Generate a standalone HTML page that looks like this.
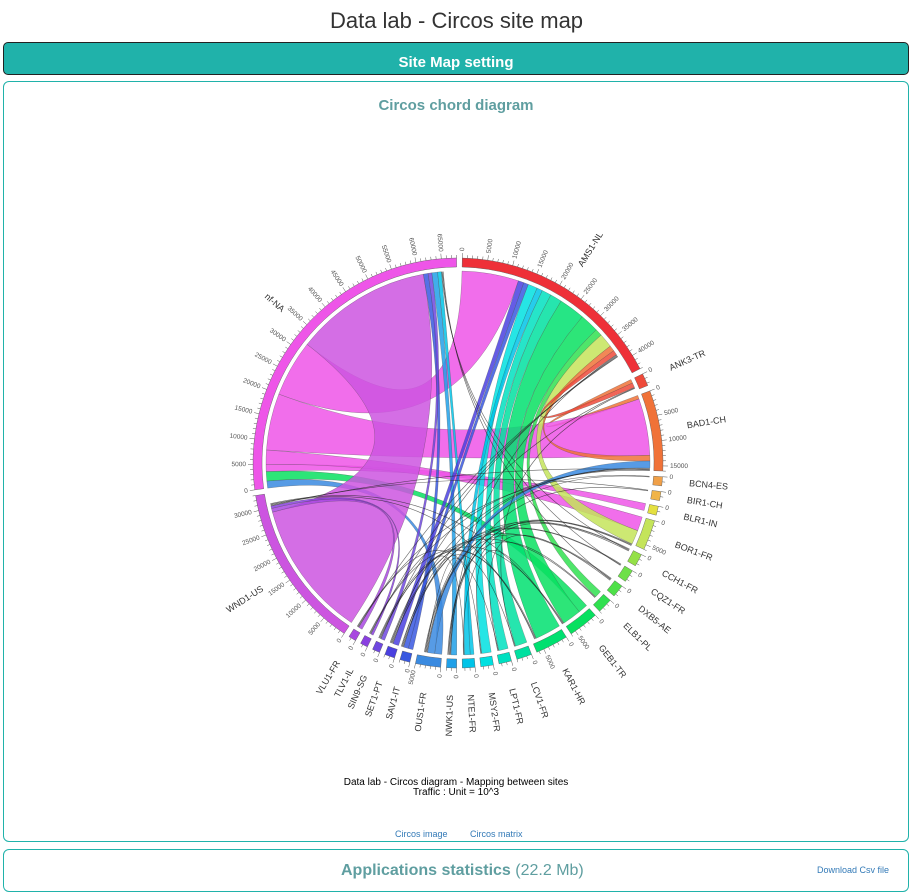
<!DOCTYPE html>
<html><head><meta charset="utf-8">
<style>
body{margin:0;width:913px;height:895px;background:#fff;font-family:"Liberation Sans",sans-serif;overflow:hidden;position:relative}
.title{position:absolute;left:0;width:913px;top:8px;text-align:center;font-size:22px;color:#333}
.bar{position:absolute;left:3px;top:42px;width:904px;height:31px;background:#20b2aa;border:1px solid #222;border-radius:5px;color:#fff;font-weight:bold;font-size:15px;text-align:center;line-height:40px}
.panel{position:absolute;left:3px;width:904px;border:1px solid #20b2aa;border-radius:6px}
.h{color:#5f9ea0;font-weight:bold}
a{color:#337ab7;text-decoration:none}
</style></head><body>
<div class="title">Data lab - Circos site map</div>
<div class="bar">Site Map setting</div>
<div class="panel" style="top:81px;height:759px">
<div class="h" style="position:absolute;top:15px;width:100%;text-align:center;font-size:15px">Circos chord diagram</div>
<div style="position:absolute;top:696px;width:100%;text-align:center;font-size:10px;line-height:10px;color:#000">Data lab - Circos diagram - Mapping between sites<br>Traffic : Unit = 10^3</div>
<a style="position:absolute;left:391px;top:747px;font-size:9px">Circos image</a>
<a style="position:absolute;left:466px;top:747px;font-size:9px">Circos matrix</a>
</div>
<div class="panel" style="top:849px;height:41px">
<div style="position:absolute;left:337px;top:12px;font-size:16px"><span class="h">Applications statistics</span> <span style="color:#5f9ea0">(22.2 Mb)</span></div>
<a style="position:absolute;left:813px;top:15px;font-size:9px">Download Csv file</a>
</div>
<svg id="chart" width="913" height="895" style="position:absolute;left:0;top:0"></svg>
<script>
const sites=["AMS1-NL","ANK3-TR","BAD1-CH","BCN4-ES","BIR1-CH","BLR1-IN","BOR1-FR","CCH1-FR","CQZ1-FR","DXB5-AE","ELB1-PL","GEB1-TR","KAR1-HR","LCV1-FR","LPT1-FR","MSY2-FR","NTE1-FR","NWK1-US","OUS1-FR","SAV1-IT","SET1-PT","SIN9-SG","TLV1-IL","VLU1-FR","WND1-US","nf-NA"];
const siteTotals=[43000,2500,16000,1800,1800,1800,6000,2500,2500,2500,3000,6000,6500,3000,2500,2500,2500,2000,5000,2000,2000,1500,1500,1500,33000,68000];
const siteColors=["#ee3038","#ee4a3a","#f07238","#f0a048","#f0b448","#e4e040","#c4e45a","#94e048","#6ee048","#4ee048","#30e050","#08e060","#00e070","#00e0a0","#00e0c0","#00e0e0","#00c4e8","#20a0e8","#3a8ae0","#3858e0","#4a40e0","#7048e0","#8a40e0","#a848e0","#cc55e0","#ee55e8"];
const flowFrom=["nf-NA","nf-NA","ANK3-TR","BLR1-IN","BOR1-FR","BAD1-CH","AMS1-NL","nf-NA","nf-NA","nf-NA","nf-NA","nf-NA","AMS1-NL","AMS1-NL","AMS1-NL","AMS1-NL","AMS1-NL","AMS1-NL","AMS1-NL","AMS1-NL","AMS1-NL","AMS1-NL","AMS1-NL","AMS1-NL","BAD1-CH","WND1-US","WND1-US"];
const flowTo=["OUS1-FR","GEB1-TR","BAD1-CH","nf-NA","nf-NA","nf-NA","nf-NA","WND1-US","SAV1-IT","SIN9-SG","NWK1-US","NTE1-FR","SET1-PT","SAV1-IT","MSY2-FR","NTE1-FR","LPT1-FR","LCV1-FR","KAR1-HR","GEB1-TR","ELB1-PL","BOR1-FR","BAD1-CH","ANK3-TR","OUS1-FR","VLU1-FR","TLV1-IL"];
const flowValue=[1500,2000,800,1500,3000,12000,12000,29000,1000,800,1200,800,1200,1000,2000,1200,2000,2500,5500,4000,1500,3000,1200,1000,1500,800,500];
const thinFrom=["AMS1-NL","AMS1-NL","AMS1-NL","AMS1-NL","BAD1-CH","BAD1-CH","BAD1-CH","BOR1-FR","BOR1-FR","CCH1-FR","CQZ1-FR","DXB5-AE","ELB1-PL","GEB1-TR","KAR1-HR","LCV1-FR","LPT1-FR","MSY2-FR","NTE1-FR","NWK1-US","OUS1-FR","SAV1-IT","SET1-PT","SIN9-SG","TLV1-IL","VLU1-FR","WND1-US","WND1-US","WND1-US","nf-NA","nf-NA","nf-NA","BCN4-ES","BIR1-CH","ANK3-TR","ANK3-TR","CCH1-FR","DXB5-AE","KAR1-HR","GEB1-TR"];
const thinTo=["NWK1-US","SIN9-SG","TLV1-IL","VLU1-FR","SAV1-IT","SET1-PT","WND1-US","OUS1-FR","NWK1-US","SAV1-IT","SET1-PT","OUS1-FR","NWK1-US","SIN9-SG","TLV1-IL","SAV1-IT","VLU1-FR","OUS1-FR","SET1-PT","BOR1-FR","CCH1-FR","CQZ1-FR","DXB5-AE","ELB1-PL","BAD1-CH","BCN4-ES","BIR1-CH","KAR1-HR","GEB1-TR","CCH1-FR","CQZ1-FR","DXB5-AE","OUS1-FR","NWK1-US","SET1-PT","LCV1-FR","NTE1-FR","LPT1-FR","SIN9-SG","MSY2-FR"];
const thinValue=150;
const S="http://www.w3.org/2000/svg",svg=document.getElementById('chart');
const cx=458,cy=463,R0=196,R1=205,RC=192,gap=1.6,start=1.2;
const total=siteTotals.reduce((a,b)=>a+b,0),k=(360-sites.length*gap)/total;
const st=[];let a=start;siteTotals.forEach((v,i)=>{st.push(a);a+=v*k+gap;});
function ang(i,off){return st[i]+off*k;}
function pt(t,r){const q=t*Math.PI/180;return [cx+r*Math.sin(q),cy-r*Math.cos(q)];}
function el(n,at,p){const e=document.createElementNS(S,n);for(const x in at)e.setAttribute(x,at[x]);(p||svg).appendChild(e);return e;}
const gC=el('g',{});
const gR=el('g',{});
const cur=siteTotals.map(()=>0);
function arcP(t0,t1,r){const p0=pt(t0,r),p1=pt(t1,r);return `L${p0} A${r} ${r} 0 ${t1-t0>180?1:0} 1 ${p1}`;}
flowFrom.forEach((f,j)=>{const i=sites.indexOf(f),o=sites.indexOf(flowTo[j]),v=flowValue[j];
 const a0=ang(i,cur[i]),a1=ang(i,cur[i]+v);cur[i]+=v;const b0=ang(o,cur[o]),b1=ang(o,cur[o]+v);cur[o]+=v;
 const s=pt(a0,RC);let d=`M${s} `+arcP(a0,a1,RC).slice(1)+` Q${cx},${cy} ${pt(b0,RC)} `+arcP(b0,b1,RC)+` Q${cx},${cy} ${s}Z`;
 const p=el('path',{d:d,fill:siteColors[o],'fill-opacity':0.85,stroke:'#444','stroke-width':0.4,'stroke-opacity':0.6},gC);
 
 
});
thinFrom.forEach((f,j)=>{const i=sites.indexOf(f),o=sites.indexOf(thinTo[j]);
 const a0=ang(i,cur[i]+thinValue/2);cur[i]+=thinValue;const b0=ang(o,cur[o]+thinValue/2);cur[o]+=thinValue;
 const p=el('path',{d:`M${pt(a0,RC)} Q${cx},${cy} ${pt(b0,RC)}`,fill:'none',stroke:'#222','stroke-width':0.6,'stroke-opacity':0.7},gC);
 
 
});
sites.forEach((n,i)=>{const t0=st[i],t1=st[i]+siteTotals[i]*k;
 const p=el('path',{d:`M${pt(t0,R1)} `+arcP(t0,t1,R1).slice(1)+` L${pt(t1,R0)} A${R0} ${R0} 0 ${t1-t0>180?1:0} 0 ${pt(t0,R0)}Z`,fill:siteColors[i],stroke:'#555','stroke-width':0.4},gR);
 
 
 let td='';for(let v=0;v<=siteTotals[i];v+=1000){const t=ang(i,v),r2=v%5000==0?210:208;td+=`M${pt(t,R1)} L${pt(t,r2)} `;}
 const tk=el('path',{d:td,stroke:'#555','stroke-width':0.5,fill:'none'},gR);
 
 
 for(let v=0;v<=siteTotals[i];v+=5000){const t=ang(i,v),q=pt(t,212),left=t>180;
  const tx=el('text',{x:q[0],y:q[1],'font-size':6.5,fill:'#555','text-anchor':left?'end':'start','dominant-baseline':'middle',transform:`rotate(${left?t+90:t-90} ${q[0]} ${q[1]})`},gR);
  tx.textContent=v;
  
  }
 const tm=(t0+t1)/2,q=pt(tm,232),left=tm>180;
 const lb=el('text',{x:q[0],y:q[1],'font-size':9,fill:'#333','text-anchor':left?'end':'start','dominant-baseline':'middle',transform:`rotate(${left?tm+90:tm-90} ${q[0]} ${q[1]})`},gR);
 lb.textContent=n;
 
 
});
</script>
</body></html>
